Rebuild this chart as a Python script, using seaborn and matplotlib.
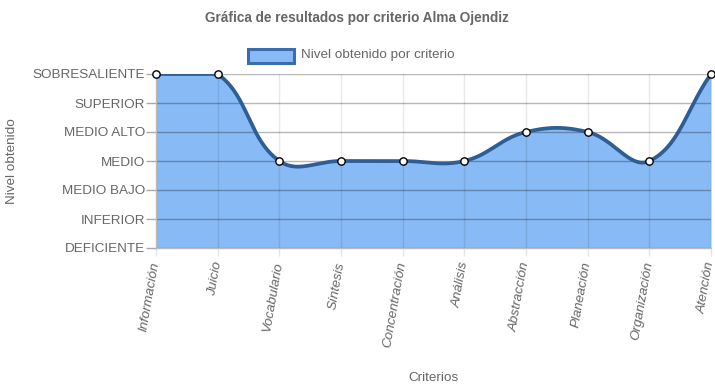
import numpy as np
import pandas as pd
import matplotlib
matplotlib.use("Agg")
import matplotlib.pyplot as plt
import seaborn as sns
from matplotlib.patches import Rectangle

categories = ["Información", "Juicio", "Vocabulario", "Síntesis", "Concentración",
              "Análisis", "Abstracción", "Planeación", "Organización", "Atención"]
values = [6, 6, 3, 3, 3, 3, 4, 4, 3, 6]
levels = ["DEFICIENTE", "INFERIOR", "MEDIO BAJO", "MEDIO", "MEDIO ALTO", "SUPERIOR", "SOBRESALIENTE"]
title = "Gráfica de resultados por criterio Alma Ojendiz"
series_name = "Nivel obtenido por criterio"

sns.set_theme(style="white")
plt.rcParams['font.family'] = ['Liberation Sans', 'DejaVu Sans']

W, H = 715, 391
fig = plt.figure(figsize=(W / 100, H / 100), dpi=100)
L, R, T, B = 156, 711, 74, 248
ax = fig.add_axes([L / W, 1 - B / H, (R - L) / W, (B - T) / H])

n = len(values)
xs = np.arange(n, dtype=float)
ys = np.array(values, dtype=float)
ymax = len(levels) - 1
sx = (R - L) / (n - 1)
sy = (B - T) / ymax

# Chart.js-style spline (tension 0.4) computed in pixel space
t = 0.4
P = np.column_stack([xs * sx, ys * sy])
cp_prev = np.zeros_like(P)
cp_next = np.zeros_like(P)
for i in range(n):
    prev = P[i - 1] if i > 0 else P[i]
    nxt = P[i + 1] if i < n - 1 else P[i]
    d01 = np.hypot(*(P[i] - prev))
    d12 = np.hypot(*(nxt - P[i]))
    tot = d01 + d12
    s01 = d01 / tot if tot else 0
    s12 = d12 / tot if tot else 0
    cp_prev[i] = P[i] - t * s01 * (nxt - prev)
    cp_next[i] = P[i] + t * s12 * (nxt - prev)
for arr in (cp_prev, cp_next):
    arr[:, 0] = np.clip(arr[:, 0], 0, (n - 1) * sx)
    arr[:, 1] = np.clip(arr[:, 1], 0, ymax * sy)

tt = np.linspace(0, 1, 60)[:, None]
curve = []
for i in range(n - 1):
    p0, p1, p2, p3 = P[i], cp_next[i], cp_prev[i + 1], P[i + 1]
    seg = ((1 - tt) ** 3) * p0 + 3 * ((1 - tt) ** 2) * tt * p1 + 3 * (1 - tt) * tt ** 2 * p2 + tt ** 3 * p3
    curve.append(seg if i == 0 else seg[1:])
curve = np.vstack(curve)
cx = curve[:, 0] / sx
cy = curve[:, 1] / sy

fill_c = "#88baf5"
line_c = "#2f5e95"
ax.fill_between(cx, cy, 0, color=fill_c, lw=0, zorder=1)
df = pd.DataFrame({"x": cx, "y": cy})
sns.lineplot(data=df, x="x", y="y", sort=False, estimator=None, color=line_c, lw=2.7, ax=ax, zorder=3)
pts = pd.DataFrame({"x": xs, "y": ys})
sns.scatterplot(data=pts, x="x", y="y", ax=ax, s=28, color="white", edgecolor="black",
                linewidth=1, zorder=5, clip_on=False)

ax.set_xlim(0, n - 1)
ax.set_ylim(0, ymax)
for v in range(ymax + 1):
    ax.axhline(v, color="black", alpha=0.28, lw=1, zorder=2)
for i in range(n):
    ax.axvline(i, color="black", alpha=0.09, lw=1, zorder=2)

ax.set_yticks(range(ymax + 1))
ax.set_yticklabels(levels, fontsize=9.7, color="#666666")
ax.set_xticks(xs)
ax.set_xticklabels(categories, fontsize=9.7, color="#666666", style="italic",
                   rotation=80, ha="right", va="center", rotation_mode="anchor")
ax.tick_params(axis="y", length=7, width=1, color="#aaaaaa", pad=1, left=True)
ax.tick_params(axis="x", length=6, width=1, color="#e5e5e5", pad=4, bottom=True)
for s in ["top", "right"]:
    ax.spines[s].set_visible(False)
ax.spines["left"].set_color("#bbbbbb")
ax.spines["bottom"].set_color("#bbbbbb")
ax.spines["left"].set_linewidth(1)
ax.spines["bottom"].set_linewidth(1)

ax.set_xlabel("")
ax.set_ylabel("")
fig.text(12 / W, 1 - 161 / H, "Nivel obtenido", rotation=90, ha="center", va="center",
         fontsize=9.7, color="#666666")
fig.text(433.5 / W, 1 - 378 / H, "Criterios", ha="center", va="center", fontsize=9.7, color="#666666")
fig.text(357 / W, 1 - 18 / H, title, ha="center", va="center", fontsize=9.8, fontweight="bold", color="#666666")

# legend
fig.patches.append(Rectangle((248 / W, 1 - 63 / H), 46 / W, 14 / H, transform=fig.transFigure,
                             facecolor=fill_c, edgecolor="#3a6cae", lw=2.2))
fig.text(301 / W, 1 - 55 / H, series_name, ha="left", va="center", fontsize=9.7, color="#666666")

fig.savefig("out.png", dpi=100)
